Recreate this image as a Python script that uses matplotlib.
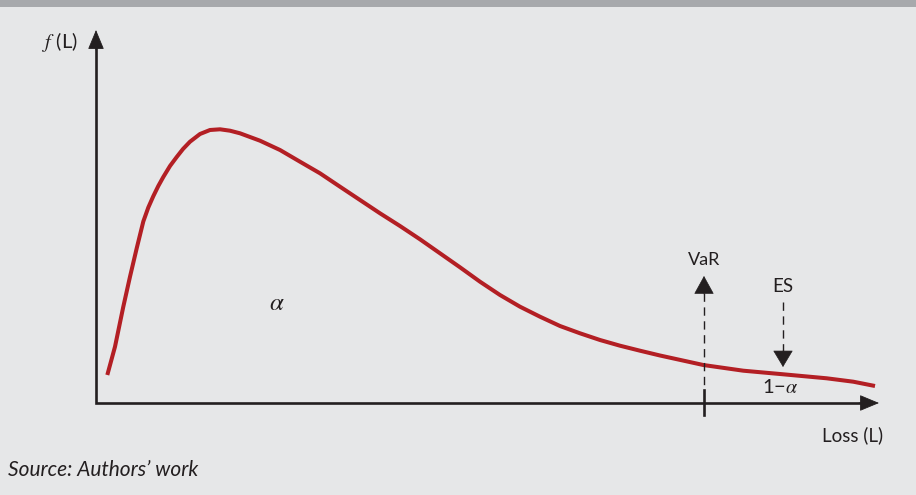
import matplotlib
matplotlib.use("Agg")
import matplotlib.pyplot as plt
from matplotlib.patches import Rectangle

plt.rcParams['font.family'] = ['Lato', 'DejaVu Sans']
plt.rcParams['mathtext.fontset'] = 'stix'

# ---- data (loss, density) ----
loss = [11.3, 19, 27.3, 34, 40.7, 47.3, 52.3, 57.3, 62.3, 67.3, 74, 80.7, 87, 94, 104,
        114, 124, 134, 144, 164, 184, 204, 224, 244, 264, 284, 304, 324, 344, 364,
        384, 404, 424, 444, 464, 484, 504, 524, 544, 564, 607.3, 647.3, 687.3,
        730.7, 757.3, 779]
density = [28, 56.3, 96.3, 126.3, 154.7, 181.5, 195.5, 206.8, 217, 226, 237, 246,
           254, 261.3, 269, 273, 273.7, 272.3, 269.7, 262.3, 253, 241.3, 229.7, 216.3,
           203, 189.7, 177, 163.7, 149.7, 135.7, 121.3, 108, 96.3, 86.3, 77, 69.7, 63,
           57.3, 52.3, 47.5, 38, 32.3, 28.7, 24.7, 21.3, 17]

var_loss = 608
es_loss = 687

INK = '#231f20'
RED = '#b31f24'
BG = '#e6e7e8'

fig = plt.figure(figsize=(9.16, 4.95), dpi=100, facecolor=BG)
fig.patches.append(Rectangle((0, 1 - 7 / 495), 1, 7 / 495, transform=fig.transFigure,
                             facecolor='#a7a9ac', edgecolor='none'))
ax = fig.add_axes([0, 0, 1, 1])
ax.set_xlim(-96, 820)
ax.set_ylim(-92, 403)
ax.axis('off')
ax.patch.set_alpha(0)

# axes (L shape) + arrowheads
x_tip, y_tip = 783, 373
ax.plot([0, 0, x_tip - 10], [y_tip - 10, 0, 0], color=INK, lw=1.9,
        solid_joinstyle='miter', solid_capstyle='butt')
head = '-|>,head_length=1.25,head_width=0.52'
ax.annotate('', xy=(0, y_tip), xytext=(0, y_tip - 20),
            arrowprops=dict(arrowstyle=head, mutation_scale=10, color=INK, lw=0.6,
                            shrinkA=0, shrinkB=0))
ax.annotate('', xy=(x_tip, 0), xytext=(x_tip - 20, 0),
            arrowprops=dict(arrowstyle=head, mutation_scale=10, color=INK, lw=0.6,
                            shrinkA=0, shrinkB=0))

# density curve
ax.plot(loss, density, color=RED, lw=2.9, solid_capstyle='butt', solid_joinstyle='round',
        antialiased=True)

# VaR marker: tick on axis, dashed line, up arrow
ax.plot([var_loss, var_loss], [13, -12], color=INK, lw=1.9)
ax.plot([var_loss, var_loss], [110, 13], color=INK, lw=1.0, dashes=(6, 4))
ax.annotate('', xy=(var_loss, 127), xytext=(var_loss, 109),
            arrowprops=dict(arrowstyle='-|>,head_length=1.2,head_width=0.66',
                            mutation_scale=10, color=INK, lw=0.5, shrinkA=0, shrinkB=0))
ax.text(var_loss, 143, 'VaR', ha='center', va='center', fontsize=13, color=INK)

# ES marker: dashed line, down arrow
ax.plot([es_loss, es_loss], [101, 52], color=INK, lw=1.0, dashes=(6, 4))
ax.annotate('', xy=(es_loss, 36), xytext=(es_loss, 52),
            arrowprops=dict(arrowstyle='-|>,head_length=1.1,head_width=0.66',
                            mutation_scale=10, color=INK, lw=0.5, shrinkA=0, shrinkB=0))
ax.text(es_loss, 117, 'ES', ha='center', va='center', fontsize=13.5, color=INK)

# labels
ax.text(181, 101, r'$\alpha$', ha='center', va='center', fontsize=18, color=INK)
ax.text(684, 16, '1\u2212' + r'$\alpha$', ha='center', va='center', fontsize=14.5, color=INK)
ax.text(-18, 361, r'$f$' + ' (L)', ha='right', va='center', fontsize=14.5, color=INK)
ax.text(757, -32, 'Loss (L)', ha='center', va='center', fontsize=13.5, color=INK)

fig.text(8 / 916, 1 - 470 / 495, 'Source: Authors\u2019 work', ha='left', va='center',
         fontsize=15, style='italic', color=INK)

fig.savefig('out.png', dpi=100, facecolor=BG)
